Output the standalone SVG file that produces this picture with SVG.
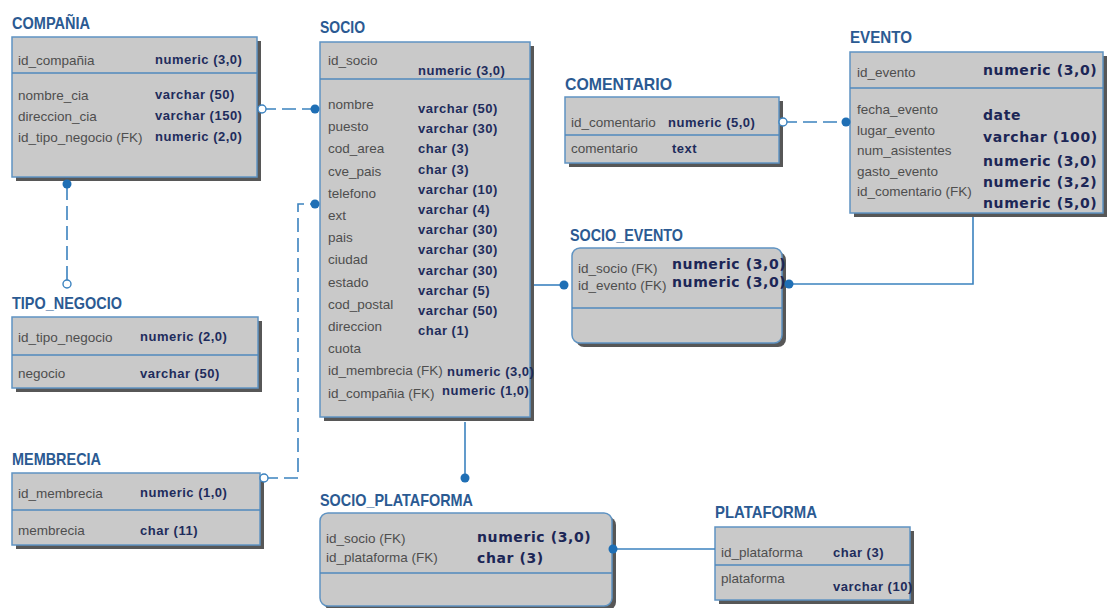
<svg xmlns="http://www.w3.org/2000/svg" width="1108" height="608" viewBox="0 0 1108 608">
  <style>
    .title { font-family: "Liberation Sans", Arial, sans-serif; font-size: 17px; font-weight: bold; fill: #2b5a92; }
    .box { fill: #c9c9c9; stroke: #5f93c2; stroke-width: 1.5; }
    .shadow { fill: #575757; }
    .sep { stroke: #4f88bd; stroke-width: 1.5; }
    .nm { font-family: "Liberation Sans", Arial, sans-serif; font-size: 13.5px; fill: #4e4e4e; }
    .ty { font-family: "Liberation Sans", Arial, sans-serif; font-size: 13px; font-weight: bold; fill: #1e2c5c; letter-spacing: 0.5px; }
    .ty2 { font-family: "DejaVu Sans", Verdana, sans-serif; font-size: 14px; font-weight: bold; fill: #1c2656; letter-spacing: 0.6px; }
    .rel { fill: none; stroke: #3b82bf; stroke-width: 1.6; }
    .dash { stroke-dasharray: 14 6; }
    .dot { fill: #1f6fb5; }
    .open { fill: #ffffff; stroke: #3b82bf; stroke-width: 1.4; }
  </style>

  <rect width="1108" height="608" fill="#ffffff"/>

  <!-- COMPAÑIA -->
  <g id="compania">
    <text class="title" x="12" y="29" textLength="78" lengthAdjust="spacingAndGlyphs">COMPAÑIA</text>
    <rect class="shadow" x="16" y="41" width="245" height="140"/>
    <rect class="box" x="12" y="37" width="245" height="140"/>
    <line class="sep" x1="12" y1="73" x2="257" y2="73"/>
    <text class="nm" x="18" y="65">id_compañia</text>
    <text class="ty" x="155" y="64">numeric (3,0)</text>
    <text class="nm" x="18" y="100">nombre_cia</text>
    <text class="ty" x="155" y="99">varchar (50)</text>
    <text class="nm" x="18" y="121">direccion_cia</text>
    <text class="ty" x="155" y="120">varchar (150)</text>
    <text class="nm" x="18" y="142">id_tipo_negocio (FK)</text>
    <text class="ty" x="155" y="141">numeric (2,0)</text>
  </g>

  <!-- TIPO_NEGOCIO -->
  <g id="tipo_negocio">
    <text class="title" x="12" y="309" textLength="110" lengthAdjust="spacingAndGlyphs">TIPO_NEGOCIO</text>
    <rect class="shadow" x="16" y="321" width="246" height="71"/>
    <rect class="box" x="12" y="317" width="246" height="71"/>
    <line class="sep" x1="12" y1="355" x2="258" y2="355"/>
    <text class="nm" x="18" y="342">id_tipo_negocio</text>
    <text class="ty" x="140" y="341">numeric (2,0)</text>
    <text class="nm" x="18" y="378">negocio</text>
    <text class="ty" x="140" y="378">varchar (50)</text>
  </g>

  <!-- MEMBRECIA -->
  <g id="membrecia">
    <text class="title" x="12" y="465" textLength="89" lengthAdjust="spacingAndGlyphs">MEMBRECIA</text>
    <rect class="shadow" x="16" y="477" width="248" height="72"/>
    <rect class="box" x="12" y="473" width="248" height="72"/>
    <line class="sep" x1="12" y1="510" x2="260" y2="510"/>
    <text class="nm" x="18" y="498">id_membrecia</text>
    <text class="ty" x="140" y="497">numeric (1,0)</text>
    <text class="nm" x="18" y="535">membrecia</text>
    <text class="ty" x="140" y="535">char (11)</text>
  </g>

  <!-- SOCIO -->
  <g id="socio">
    <text class="title" x="320" y="33" textLength="45" lengthAdjust="spacingAndGlyphs">SOCIO</text>
    <rect class="shadow" x="324" y="46" width="210" height="375"/>
    <rect class="box" x="320" y="42" width="210" height="375"/>
    <line class="sep" x1="320" y1="79" x2="530" y2="79"/>
    <text class="nm" x="328" y="65">id_socio</text>
    <text class="ty" x="418" y="75">numeric (3,0)</text>
    <text class="nm" x="328" y="109">nombre</text>
    <text class="nm" x="328" y="131">puesto</text>
    <text class="nm" x="328" y="153">cod_area</text>
    <text class="nm" x="328" y="176">cve_pais</text>
    <text class="nm" x="328" y="198">telefono</text>
    <text class="nm" x="328" y="220">ext</text>
    <text class="nm" x="328" y="242">pais</text>
    <text class="nm" x="328" y="264">ciudad</text>
    <text class="nm" x="328" y="287">estado</text>
    <text class="nm" x="328" y="309">cod_postal</text>
    <text class="nm" x="328" y="331">direccion</text>
    <text class="nm" x="328" y="353">cuota</text>
    <text class="nm" x="328" y="375">id_membrecia (FK)</text>
    <text class="nm" x="328" y="398">id_compañia (FK)</text>
    <text class="ty" x="418" y="113">varchar (50)</text>
    <text class="ty" x="418" y="133">varchar (30)</text>
    <text class="ty" x="418" y="153">char (3)</text>
    <text class="ty" x="418" y="174">char (3)</text>
    <text class="ty" x="418" y="194">varchar (10)</text>
    <text class="ty" x="418" y="214">varchar (4)</text>
    <text class="ty" x="418" y="234">varchar (30)</text>
    <text class="ty" x="418" y="254">varchar (30)</text>
    <text class="ty" x="418" y="275">varchar (30)</text>
    <text class="ty" x="418" y="295">varchar (5)</text>
    <text class="ty" x="418" y="315">varchar (50)</text>
    <text class="ty" x="418" y="335">char (1)</text>
    <text class="ty" x="447" y="376">numeric (3,0)</text>
    <text class="ty" x="442" y="395">numeric (1,0)</text>
  </g>

  <!-- COMENTARIO -->
  <g id="comentario">
    <text class="title" x="565" y="90" textLength="107" lengthAdjust="spacingAndGlyphs">COMENTARIO</text>
    <rect class="shadow" x="569" y="101" width="214" height="66"/>
    <rect class="box" x="565" y="97" width="214" height="66"/>
    <line class="sep" x1="565" y1="135" x2="779" y2="135"/>
    <text class="nm" x="571" y="127">id_comentario</text>
    <text class="ty" x="668" y="127">numeric (5,0)</text>
    <text class="nm" x="571" y="153">comentario</text>
    <text class="ty" x="672" y="153">text</text>
  </g>

  <!-- EVENTO -->
  <g id="evento">
    <text class="title" x="850" y="43" textLength="62" lengthAdjust="spacingAndGlyphs">EVENTO</text>
    <rect class="shadow" x="854" y="56" width="253" height="161"/>
    <rect class="box" x="850" y="52" width="253" height="161"/>
    <line class="sep" x1="850" y1="88" x2="1103" y2="88"/>
    <text class="nm" x="857" y="77">id_evento</text>
    <text class="ty2" x="983" y="75">numeric (3,0)</text>
    <text class="nm" x="857" y="114">fecha_evento</text>
    <text class="nm" x="857" y="135">lugar_evento</text>
    <text class="nm" x="857" y="155">num_asistentes</text>
    <text class="nm" x="857" y="176">gasto_evento</text>
    <text class="nm" x="857" y="196">id_comentario (FK)</text>
    <text class="ty2" x="983" y="120">date</text>
    <text class="ty2" x="983" y="142">varchar (100)</text>
    <text class="ty2" x="983" y="166">numeric (3,0)</text>
    <text class="ty2" x="983" y="187">numeric (3,2)</text>
    <text class="ty2" x="983" y="208">numeric (5,0)</text>
  </g>

  <!-- SOCIO_EVENTO -->
  <g id="socio_evento">
    <text class="title" x="570" y="241" textLength="113" lengthAdjust="spacingAndGlyphs">SOCIO_EVENTO</text>
    <rect class="shadow" x="576" y="252" width="210" height="95" rx="8"/>
    <rect class="box" x="572" y="248" width="210" height="95" rx="8"/>
    <line class="sep" x1="572" y1="308" x2="782" y2="308"/>
    <text class="nm" x="578" y="273">id_socio (FK)</text>
    <text class="nm" x="578" y="290">id_evento (FK)</text>
    <text class="ty2" x="672" y="269">numeric (3,0)</text>
    <text class="ty2" x="672" y="287">numeric (3,0)</text>
  </g>

  <!-- SOCIO_PLATAFORMA -->
  <g id="socio_plataforma">
    <text class="title" x="320" y="506" textLength="153" lengthAdjust="spacingAndGlyphs">SOCIO_PLATAFORMA</text>
    <rect class="shadow" x="324" y="517" width="292" height="93" rx="8"/>
    <rect class="box" x="320" y="513" width="292" height="93" rx="8"/>
    <line class="sep" x1="320" y1="573" x2="612" y2="573"/>
    <text class="nm" x="326" y="543">id_socio (FK)</text>
    <text class="nm" x="326" y="562">id_plataforma (FK)</text>
    <text class="ty2" x="477" y="542">numeric (3,0)</text>
    <text class="ty2" x="477" y="563">char (3)</text>
  </g>

  <!-- PLATAFORMA -->
  <g id="plataforma">
    <text class="title" x="715" y="518" textLength="102" lengthAdjust="spacingAndGlyphs">PLATAFORMA</text>
    <rect class="shadow" x="719" y="531" width="195" height="73"/>
    <rect class="box" x="715" y="527" width="195" height="73"/>
    <line class="sep" x1="715" y1="565" x2="910" y2="565"/>
    <text class="nm" x="721" y="557">id_plataforma</text>
    <text class="ty" x="833" y="557">char (3)</text>
    <text class="nm" x="721" y="583">plataforma</text>
    <text class="ty" x="833" y="591">varchar (10)</text>
  </g>

  <!-- relationships, drawn over the tables so the end markers stay visible -->
  <g id="connectors">
    <path class="rel dash" d="M262,109 H313"/>
    <path class="rel dash" d="M67,186 V280"/>
    <path class="rel dash" d="M264,478 H298 V204 H313"/>
    <path class="rel dash" d="M783,122 H844"/>
    <path class="rel" d="M534,285 H563"/>
    <path class="rel" d="M973,217 V284 H789"/>
    <path class="rel" d="M465,422 V476"/>
    <path class="rel" d="M616,549 H715"/>

    <circle class="open" cx="262" cy="109" r="4"/>
    <circle class="dot" cx="315" cy="109" r="4.5"/>
    <circle class="dot" cx="67" cy="184" r="4.5"/>
    <circle class="open" cx="67" cy="284" r="4"/>
    <circle class="open" cx="264" cy="478" r="4"/>
    <circle class="dot" cx="315" cy="204" r="4.5"/>
    <circle class="open" cx="783" cy="122" r="4"/>
    <circle class="dot" cx="846" cy="122" r="4.5"/>
    <circle class="dot" cx="564" cy="285" r="4.5"/>
    <circle class="dot" cx="789" cy="284" r="4.5"/>
    <circle class="dot" cx="465" cy="478" r="4.5"/>
    <circle class="dot" cx="613" cy="549" r="4.5"/>
  </g>
</svg>
